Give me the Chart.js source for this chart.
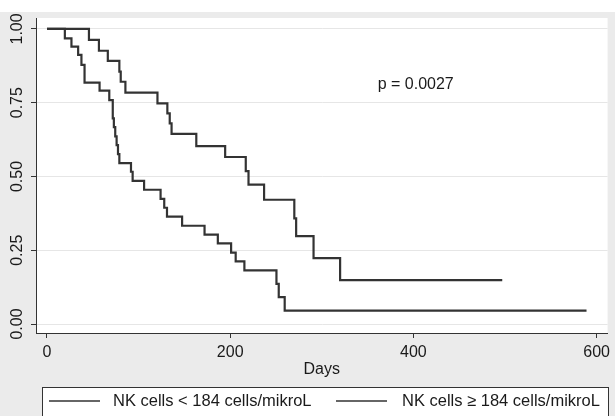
<!DOCTYPE html>
<html>
<head>
<meta charset="utf-8">
<script src="https://cdn.jsdelivr.net/npm/chart.js@4/dist/chart.umd.min.js"></script>
<style>
  html, body { margin: 0; padding: 0; background: #ffffff; }
  #wrap { width: 615px; height: 416px; }
</style>
</head>
<body>
<div id="wrap"><canvas id="c" width="615" height="416"></canvas></div>
<script>
// ---- Data (Kaplan-Meier step points) ----
const seriesLabels = ["NK cells < 184 cells/mikroL", "NK cells \u2265 184 cells/mikroL"];

const daysLow = [0, 19.5, 26.7, 34, 37.6, 41, 57.4, 68, 71.8, 73, 74.5, 76, 77.5, 79, 91.7, 93.5, 106, 124, 128, 131, 147.5, 172, 186.5, 201, 206, 215.5, 250.5, 253, 259.5, 589];
const survLow = [1, 0.968, 0.94, 0.912, 0.878, 0.818, 0.791, 0.759, 0.697, 0.667, 0.636, 0.606, 0.576, 0.545, 0.516, 0.485, 0.455, 0.424, 0.394, 0.364, 0.333, 0.303, 0.273, 0.242, 0.212, 0.182, 0.136, 0.091, 0.045, 0.045];

const daysHigh = [0, 45.8, 56.7, 66.4, 79, 80.5, 85.6, 120.6, 131.4, 134, 136, 163, 194.5, 217, 220, 237, 270, 272, 291, 320, 497];
const survHigh = [1, 0.963, 0.926, 0.892, 0.855, 0.821, 0.784, 0.748, 0.714, 0.68, 0.644, 0.603, 0.566, 0.518, 0.472, 0.421, 0.358, 0.298, 0.223, 0.149, 0.149];

const xTicks = [0, 200, 400, 600];
const yTicks = [0, 0.25, 0.5, 0.75, 1];
const yTickLabels = ["0.00", "0.25", "0.50", "0.75", "1.00"];
const xTitle = "Days";
const pText = "p = 0.0027";

// ---- Chart ----
const FONT = "'Liberation Sans', Arial, Helvetica, sans-serif";
const TEXT = "#1a1a1a";
const LINE = "#333333";

function toPoints(xs, ys) { return xs.map((x, i) => ({ x: x, y: ys[i] })); }

const decor = {
  id: 'decor',
  beforeDraw(chart) {
    const ctx = chart.ctx, a = chart.chartArea;
    ctx.save();
    ctx.fillStyle = '#ebebeb';
    ctx.fillRect(0, 0, chart.width, chart.height);
    ctx.fillStyle = '#ffffff';
    ctx.fillRect(0, 0, chart.width, 12);
    ctx.fillRect(a.left, a.top, a.right - a.left, a.bottom - a.top);
    ctx.restore();
  },
  afterDraw(chart) {
    const ctx = chart.ctx, a = chart.chartArea;
    const xs = chart.scales.x, ys = chart.scales.y;
    ctx.save();
    ctx.fillStyle = TEXT;
    ctx.font = "16px " + FONT;
    // rotated y tick labels
    yTicks.forEach((v, i) => {
      const py = ys.getPixelForValue(v);
      ctx.save();
      ctx.translate(18, py);
      ctx.rotate(-Math.PI / 2);
      ctx.textAlign = 'center';
      ctx.textBaseline = 'middle';
      ctx.fillText(yTickLabels[i], 0, 0);
      ctx.restore();
    });
    // x title
    ctx.textAlign = 'center';
    ctx.textBaseline = 'middle';
    ctx.fillText(xTitle, (a.left + a.right) / 2, 370);
    // p value annotation
    ctx.textAlign = 'left';
    ctx.fillText(pText, xs.getPixelForValue(361), ys.getPixelForValue(0.81));
    // legend box
    ctx.fillStyle = '#ffffff';
    ctx.fillRect(42.5, 387.5, 566, 40);
    ctx.strokeStyle = '#333333';
    ctx.lineWidth = 1;
    ctx.strokeRect(42.5, 387.5, 566, 40);
    const items = [
      { x1: 49, x2: 100, tx: 113 },
      { x1: 336, x2: 387, tx: 402 }
    ];
    ctx.font = "16.5px " + FONT;
    items.forEach((it, i) => {
      ctx.strokeStyle = LINE;
      ctx.lineWidth = 1.5;
      ctx.beginPath();
      ctx.moveTo(it.x1, 401);
      ctx.lineTo(it.x2, 401);
      ctx.stroke();
      ctx.fillStyle = TEXT;
      ctx.textAlign = 'left';
      ctx.textBaseline = 'middle';
      ctx.fillText(chart.data.datasets[i].label, it.tx, 401);
    });
    ctx.restore();
  }
};

new Chart(document.getElementById('c'), {
  type: 'line',
  data: {
    datasets: [
      { label: seriesLabels[0], data: toPoints(daysLow, survLow), borderColor: LINE, borderWidth: 2.2, pointRadius: 0, stepped: 'before', fill: false },
      { label: seriesLabels[1], data: toPoints(daysHigh, survHigh), borderColor: LINE, borderWidth: 2.2, pointRadius: 0, stepped: 'before', fill: false }
    ]
  },
  options: {
    responsive: false,
    animation: false,
    devicePixelRatio: 1,
    layout: { padding: { top: 18, right: 3, bottom: 0, left: 0 } },
    plugins: { legend: { display: false }, tooltip: { enabled: false } },
    scales: {
      x: {
        type: 'linear',
        min: -12, max: 612,
        afterBuildTicks: (s) => { s.ticks = xTicks.map(v => ({ value: v })); },
        afterFit: (s) => { s.height = 83; },
        grid: { drawOnChartArea: false, tickColor: '#333333', tickLength: 5, tickWidth: 1 },
        border: { display: true, color: '#333333', width: 1 },
        ticks: { padding: 5, color: TEXT, font: { family: FONT, size: 16 }, maxRotation: 0, minRotation: 0 }
      },
      y: {
        type: 'linear',
        min: -0.0305, max: 1.037,
        afterBuildTicks: (s) => { s.ticks = yTicks.map(v => ({ value: v })); },
        afterFit: (s) => { s.width = 36; },
        grid: { color: '#e6e6e6', lineWidth: 1, tickColor: '#333333', tickLength: 5 },
        border: { display: true, color: '#333333', width: 1 },
        ticks: { display: false }
      }
    }
  },
  plugins: [decor]
});
</script>
</body>
</html>
